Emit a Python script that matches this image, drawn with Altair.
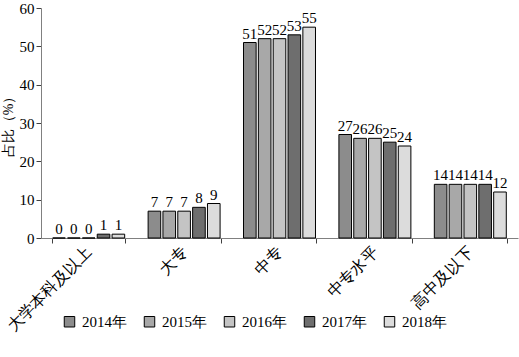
import altair as alt
import pandas as pd

categories = ["大学本科及以上", "大专", "中专", "中专水平", "高中及以下"]
years = ["2014年", "2015年", "2016年", "2017年", "2018年"]
values = {
    "2014年": [0, 7, 51, 27, 14],
    "2015年": [0, 7, 52, 26, 14],
    "2016年": [0, 7, 52, 26, 14],
    "2017年": [1, 8, 53, 25, 14],
    "2018年": [1, 9, 55, 24, 12],
}
fills = ["#8c8c8c", "#a8a8a8", "#c4c4c4", "#6e6e6e", "#dcdcdc"]

rows = []
for y in years:
    for c, v in zip(categories, values[y]):
        rows.append({"cat": c, "year": y, "val": v})
df = pd.DataFrame(rows)

FONT = "Liberation Serif"

x_axis = alt.Axis(labelAngle=-45, labelAlign="right", labelBaseline="middle",
                  labelFontSize=16, labelColor="black", labelPadding=6,
                  domainColor="#808080", tickColor="#404040", tickBand="extent",
                  tickSize=5, labelFont=FONT, labelOverlap=False)
y_axis = alt.Axis(values=[0, 10, 20, 30, 40, 50, 60], grid=False,
                  labelFontSize=15, labelColor="black", labelFont=FONT,
                  labelOverlap=False,
                  titleFont=FONT, titleFontSize=14, titleFontWeight="normal",
                  titleColor="black", titleX=-33, titleBaseline="middle",
                  domainColor="#808080", tickColor="#404040", tickSize=5,
                  labelPadding=2)

x_enc = alt.X("cat:N", sort=categories, title=None,
              scale=alt.Scale(paddingInner=0.23, paddingOuter=0.115), axis=x_axis)
xo_enc = alt.XOffset("year:N", sort=years,
                     scale=alt.Scale(paddingInner=0.15, paddingOuter=0.05))
y_enc = alt.Y("val:Q", title="占比（%）",
              scale=alt.Scale(domain=[0, 60], nice=False), axis=y_axis)

bars = alt.Chart(df).mark_bar(stroke="black", strokeWidth=1).encode(
    x=x_enc,
    xOffset=xo_enc,
    y=y_enc,
    fill=alt.Fill("year:N", sort=years,
                  scale=alt.Scale(domain=years, range=fills),
                  legend=alt.Legend(title=None, orient="none", legendX=21, legendY=306,
                                    direction="horizontal", columns=5, columnPadding=15,
                                    symbolType="square", symbolSize=110,
                                    symbolStrokeColor="black", symbolStrokeWidth=1,
                                    labelFontSize=15, labelFont=FONT, labelColor="black",
                                    labelOffset=5)),
)

labels = alt.Chart(df).mark_text(dy=-9, fontSize=15, font=FONT, color="black").encode(
    x=x_enc,
    xOffset=xo_enc,
    y=y_enc,
    text="val:Q",
)

chart = alt.layer(bars, labels).properties(
    width=477, height=230,
    background="white",
    autosize=alt.AutoSizeParams(type="none"),
    padding={"left": 41, "top": 8, "right": 1, "bottom": 119},
).configure_view(stroke=None).configure_axis(
    labelFont=FONT, titleFont=FONT
).configure_legend(labelFont=FONT).configure_text(font=FONT)

chart.save("out.html", embed_options={"renderer": "svg", "actions": False})
